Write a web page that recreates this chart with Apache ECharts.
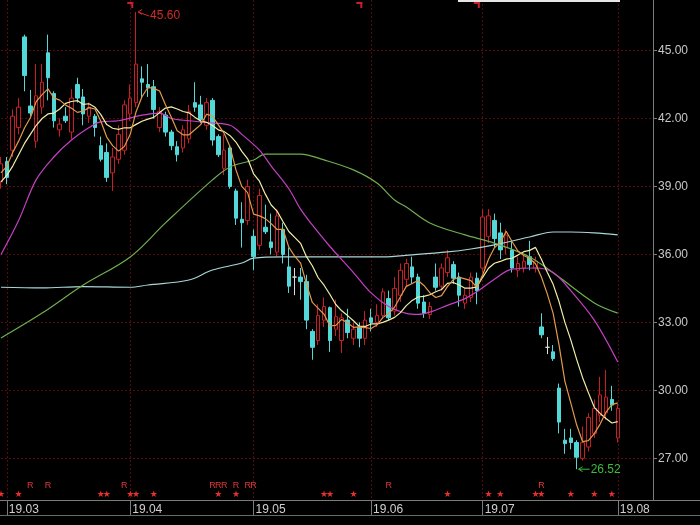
<!DOCTYPE html>
<html>
<head>
<meta charset="utf-8">
<script src="https://cdn.jsdelivr.net/npm/echarts@6/dist/echarts.min.js"></script>
<style>html,body{margin:0;padding:0;background:#000;}#c{width:700px;height:525px;}</style>
</head>
<body>
<div id="c"></div>
<script>
// ---- trading days (2019), last ones in Aug are empty future slots ----
const feb = [28];
const mar = [1,4,5,6,7,8,11,12,13,14,15,18,19,20,21,22,25,26,27,28,29];
const apr = [1,2,3,4,8,9,10,11,12,15,16,17,18,19,22,23,24,25,26,29,30];
const may = [6,7,8,9,10,13,14,15,16,17,20,21,22,23,24,27,28,29,30,31];
const jun = [3,4,5,6,10,11,12,13,14,17,18,19,20,21,24,25,26,27,28];
const jul = [1,2,3,4,5,8,9,10,11,12,15,16,17,18,19,22,23,24,25,26,29,30,31];
const aug = [1,2,5,6,7,8,9];

// ---- OHLC ----
const opens = [
39.2,40.1,40.6,41.6,45.6,42.55,41.0,42.5,44.9,43.1,
41.5,42.1,41.4,43.5,42.95,42.1,42.1,40.8,40.5,39.6,
40.2,40.6,42.2,42.7,43.75,43.5,43.4,41.6,42.15,41.4,
40.75,40.7,41.1,42.7,42.6,41.7,42.8,41.2,39.8,40.7,
38.8,37.55,37.5,36.8,36.4,37.2,36.55,36.1,37.1,35.45,
35.0,35.0,34.8,32.6,32.2,33.1,33.65,32.7,32.2,33.1,
32.3,32.8,32.3,33.2,33.0,33.3,34.05,33.5,34.2,34.9,
35.45,35.0,33.9,33.35,35.0,34.6,35.2,35.55,35.0,33.85,
34.1,34.95,35.4,36.8,37.5,36.95,36.3,36.2,35.3,35.4,
35.9,35.4,32.8,31.9,31.7,30.1,27.8,27.9,27.7,27.0,
27.5,28.1,28.9,29.0,29.6,27.9];
const closes = [
40.0,39.4,42.1,42.5,43.9,42.24,43.0,43.6,43.8,41.9,
41.75,41.9,42.9,42.9,42.2,42.5,41.6,40.2,39.4,40.3,
41.3,42.6,42.9,44.4,43.6,43.35,42.4,42.3,41.4,40.8,
40.4,41.5,42.3,42.5,41.95,42.7,41.05,40.4,40.6,39.0,
37.6,37.4,39.0,35.9,38.6,37.0,36.3,37.7,36.0,34.6,
35.0,34.8,33.1,31.9,33.3,33.7,32.2,33.25,33.2,32.55,
32.7,32.3,33.1,33.0,33.3,34.35,33.2,34.5,35.3,35.6,
35.0,33.85,33.4,33.7,34.55,35.4,35.85,34.95,34.2,34.2,
35.0,34.4,37.65,37.7,36.7,36.2,36.85,35.4,35.6,35.7,
35.55,35.7,32.45,31.9,31.4,28.6,27.65,27.7,27.05,27.7,
28.8,29.2,29.8,29.7,29.35,29.2];
const lows = [
38.9,39.1,40.3,41.3,43.2,42.1,40.7,42.2,42.8,41.6,
41.2,41.8,41.1,42.7,41.7,41.8,41.2,40.1,39.2,38.8,
40.0,40.4,41.9,42.5,42.9,42.95,42.0,41.4,41.2,40.6,
40.1,40.5,40.9,42.3,41.8,41.5,40.8,40.3,39.5,38.9,
37.3,36.3,37.3,35.3,36.2,36.9,36.0,35.9,35.6,34.3,
34.2,34.0,32.7,31.35,32.0,32.8,31.7,32.4,31.65,32.3,
32.0,31.9,32.0,32.6,32.8,33.2,33.1,33.3,33.9,34.6,
34.7,33.6,33.2,33.15,34.4,34.4,35.0,34.7,33.7,33.6,
33.9,33.8,35.2,36.5,36.3,35.8,36.0,35.2,35.0,35.2,
35.3,35.2,32.3,31.6,31.3,28.1,27.2,27.4,26.52,26.9,
27.3,27.9,28.6,28.7,29.1,27.7];
const highs = [
40.3,40.3,42.4,42.9,45.7,43.26,44.4,44.4,45.7,43.2,
42.0,42.5,43.3,43.8,43.3,42.7,42.2,41.2,40.9,40.7,
41.7,42.8,43.5,46.7,44.3,44.4,43.7,42.5,42.3,41.5,
41.0,41.7,42.6,43.6,43.0,42.9,42.9,41.3,41.3,40.8,
38.9,38.3,39.3,37.1,38.9,38.2,37.8,38.0,37.4,36.3,
35.4,35.4,35.1,32.7,33.8,34.1,33.7,34.0,33.4,33.6,
33.0,33.0,33.5,33.6,33.8,34.5,34.4,35.0,35.6,35.8,
35.9,35.15,34.2,33.9,35.6,35.6,36.2,35.7,35.2,34.5,
35.2,35.2,38.0,38.0,37.8,37.4,37.1,36.6,35.9,36.0,
36.6,35.9,33.4,32.35,32.0,30.3,28.3,28.3,27.8,28.4,
29.0,29.6,30.6,30.9,30.2,29.4];

// ---- moving averages ----
const ma5 = [
39.6,39.9,40.5,41.0,41.58,42.03,42.75,43.05,43.31,42.91,
42.81,42.59,42.45,42.27,42.33,42.48,42.42,41.88,41.18,40.8,
40.56,40.76,41.3,42.3,42.96,43.37,43.33,43.21,42.61,42.05,
41.46,41.28,41.28,41.5,41.73,42.19,42.1,41.72,41.34,40.75,
39.73,39.0,38.72,37.78,37.7,37.58,37.36,37.1,37.12,36.32,
35.92,35.62,34.7,33.88,33.62,33.36,32.84,32.87,33.13,32.98,
32.78,32.8,32.77,32.73,32.88,33.21,33.39,33.67,34.13,34.59,
34.72,34.85,34.63,34.31,34.1,34.18,34.58,34.89,34.99,34.92,
34.84,34.55,35.09,35.79,36.29,36.53,37.02,36.57,36.15,35.95,
35.82,35.59,35.0,34.26,33.4,32.01,30.4,29.45,28.48,27.74,
27.78,28.09,28.51,29.04,29.37,29.45];
const ma10 = [
39.2,39.5,39.9,40.4,40.9,41.3,41.7,42.0,42.2,42.24,
42.42,42.67,42.75,42.79,42.62,42.65,42.5,42.17,41.73,41.57,
41.52,41.59,41.59,41.74,41.88,41.97,42.05,42.26,42.46,42.51,
42.42,42.31,42.25,42.06,41.89,41.83,41.69,41.5,41.42,41.24,
40.96,40.55,40.22,39.56,39.23,38.66,38.18,37.91,37.45,37.01,
36.75,36.49,35.9,35.5,34.97,34.64,34.23,33.79,33.51,33.3,
33.07,32.82,32.82,32.93,32.93,33.0,33.1,33.22,33.43,33.74,
33.97,34.12,34.15,34.22,34.35,34.45,34.72,34.76,34.65,34.51,
34.51,34.57,34.99,35.39,35.61,35.69,35.79,35.83,35.97,36.12,
36.18,36.31,35.79,35.21,34.68,33.92,33.0,32.23,31.37,30.57,
29.9,29.25,28.98,28.76,28.56,28.62];
const ma20 = [[0,36.0],[3,37.5],[6,39.3],[9,40.3],[12,41.05],[15,41.6],[17,41.85],[20,41.9],[24,42.15],[27,42.24],[29,42.0],[32,41.9],[34,41.85],[36,41.8],[39,41.7],[41,41.3],[44,40.6],[46,39.9],[49,38.9],[51,38.0],[53,37.3],[56,36.35],[60,35.2],[63,34.3],[66,33.7],[69,33.4],[71,33.35],[73,33.45],[76,33.75],[79,34.05],[81,34.35],[84,34.9],[87,35.35],[91,35.4],[94,35.2],[97,34.4],[101,33.1],[105,31.25]];
const ma60 = [[0,32.31],[7,33.41],[14,34.65],[22,35.89],[28,37.39],[36,39.29],[39,39.86],[43,40.17],[45,40.43],[51,40.43],[55,40.17],[60,39.73],[64,39.15],[67,38.4],[69,38.09],[73,37.39],[79,36.86],[84,36.5],[90,35.89],[95,35.0],[101,33.86],[105,33.41]];
const ma250 = [[0,34.55],[7,34.52],[14,34.58],[22,34.55],[25,34.65],[32,34.87],[36,35.31],[41,35.62],[43,35.84],[48,35.89],[56,35.89],[65,35.89],[70,35.98],[76,36.11],[80,36.24],[84,36.42],[90,36.77],[94,36.99],[97,36.99],[101,36.95],[105,36.86]];

// ---- signal markers (day indices) ----
const starIdx = [0,3,17,18,22,23,26,37,40,55,56,60,76,83,85,91,92,97,101,104];
const rIdx = [5,8,21,36,37,38,40,42,43,66,92];
const flagIdx = [22,61,81];

// ---- annotations ----
const annIdx = [23, 98];
const annVal = [46.7, 26.52];
const annText = ['45.60', '26.52'];

const Y_MIN = 25.16, Y_MAX = 47.23;

const categories = [];
[['02',feb],['03',mar],['04',apr],['05',may],['06',jun],['07',jul],['08',aug]].forEach(([m, days]) => {
  days.forEach(d => categories.push('2019-' + m + '-' + String(d).padStart(2,'0')));
});
const monthStart = new Set();
categories.forEach((c, i) => { if (i > 0 && c.slice(5,7) !== categories[i-1].slice(5,7)) monthStart.add(i); });
const isMS = (i) => monthStart.has(i);

const candles = opens.map((o, i) => [o, closes[i], lows[i], highs[i]]);
const gridRed = '#560a0a';
const FONT = '"Liberation Sans", Arial, sans-serif';

function maLine(name, data, color, z) {
  return { name, type: 'line', data, symbol: 'none', connectNulls: true, smooth: Array.isArray(data[0]) ? 0.35 : false,
    lineStyle: { color, width: 1.2 }, z, silent: true };
}

const chart = echarts.init(document.getElementById('c'));
chart.setOption({
  backgroundColor: '#000',
  animation: false,
  textStyle: { fontFamily: FONT },
  grid: { left: 1, right: 47, top: 0, bottom: 25, containLabel: false },
  xAxis: {
    type: 'category', data: categories, boundaryGap: false,
    axisLine: { show: false },
    axisTick: { show: true, interval: (i) => isMS(i), length: 15, lineStyle: { color: '#7c7c7c' } },
    axisLabel: { interval: (i) => isMS(i), formatter: (v) => v.slice(2,4) + '.' + v.slice(5,7),
      color: '#cfcfcf', fontSize: 12, align: 'left', margin: 4, padding: [0,0,0,2], fontFamily: FONT },
    splitLine: { show: true, interval: (i) => isMS(i), lineStyle: { color: gridRed, type: [2,2], width: 1 } }
  },
  yAxis: {
    type: 'value', position: 'right', min: Y_MIN, max: Y_MAX, splitNumber: 7, scale: true,
    axisLine: { show: true, lineStyle: { color: '#7c7c7c' } },
    axisTick: { show: true, length: 4, lineStyle: { color: '#7c7c7c' } },
    axisLabel: { color: '#c8c8c8', fontSize: 12, margin: 5, showMinLabel: false, showMaxLabel: false,
      formatter: (v) => v.toFixed(2), fontFamily: FONT },
    splitLine: { show: true, showMinLine: false, showMaxLine: false, lineStyle: { color: gridRed, type: [2,2], width: 1 } }
  },
  series: [
    { type: 'candlestick', data: candles, barWidth: 4, z: 2,
      itemStyle: { color: '#000', color0: '#52d8d8', borderColor: '#c81e26', borderColor0: '#52d8d8',
        borderColorDoji: '#dcdcdc', borderWidth: 1 } },
    maLine('MA250', ma250, '#a8d6d6', 3),
    maLine('MA60', ma60, '#6fae4f', 3),
    maLine('MA20', ma20, '#c440c4', 4),
    maLine('MA10', ma10, '#f2eea8', 5),
    maLine('MA5', ma5, '#e29a4a', 6),
    { type: 'custom', z: 7, silent: true, data: starIdx.map(i => [i, Y_MIN]),
      renderItem: (params, api) => {
        const p = api.coord([api.value(0), Y_MIN]);
        return { type: 'text', style: { text: '★', x: p[0], y: p[1] - 5, align: 'center', verticalAlign: 'middle',
          fill: '#e8302c', font: '9px "DejaVu Sans"' } };
      } },
    { type: 'custom', z: 7, silent: true, data: rIdx.map(i => [i, Y_MIN]),
      renderItem: (params, api) => {
        const p = api.coord([api.value(0), Y_MIN]);
        return { type: 'text', style: { text: 'R', x: p[0], y: p[1] - 14, align: 'center', verticalAlign: 'middle',
          fill: '#e0383a', font: '9px "Liberation Sans"' } };
      } },
    { type: 'custom', z: 7, silent: true, data: flagIdx.map(i => [i, Y_MAX]),
      renderItem: (params, api) => {
        const p = api.coord([api.value(0), Y_MAX]);
        return { type: 'group', children: [
          { type: 'rect', shape: { x: p[0] - 3, y: p[1] + 2, width: 6, height: 2 }, style: { fill: '#c8202a' } },
          { type: 'rect', shape: { x: p[0] + 1, y: p[1] + 2, width: 2, height: 6 }, style: { fill: '#c8202a' } }
        ] };
      } },
    { type: 'custom', z: 8, silent: true, data: annIdx.map((i, k) => [i, annVal[k]]),
      renderItem: (params, api) => {
        const k = params.dataIndex;
        const p = api.coord([api.value(0), api.value(1)]);
        const col = k === 0 ? '#d42a2a' : '#3cbc3c';
        const dy = k === 0 ? 4 : 0;
        const x0 = p[0] + 2, y0 = p[1];
        return { type: 'group', children: [
          { type: 'line', shape: { x1: x0, y1: y0, x2: x0 + 11, y2: y0 + dy }, style: { stroke: col, lineWidth: 1 } },
          { type: 'polyline', shape: { points: [[x0 + 4, y0 - 2.5], [x0, y0], [x0 + 4, y0 + 2.5]] }, style: { stroke: col, fill: null, lineWidth: 1 } },
          { type: 'text', style: { text: annText[k], x: x0 + 12, y: y0 + dy, verticalAlign: 'middle', align: 'left',
            fill: col, font: '12px "Liberation Sans"' } }
        ] };
      } }
  ],
  graphic: [
    { type: 'line', shape: { x1: 0, y1: 500.5, x2: 700, y2: 500.5 }, style: { stroke: '#7c7c7c', lineWidth: 1 }, z: 10 },
    { type: 'line', shape: { x1: 0, y1: 515.5, x2: 700, y2: 515.5 }, style: { stroke: '#6a6a6a', lineWidth: 1 }, z: 10 },
    { type: 'rect', shape: { x: 458, y: 0, width: 162, height: 2 }, style: { fill: '#e6e6e6' }, z: 10 }
  ]
});
</script>
</body>
</html>
